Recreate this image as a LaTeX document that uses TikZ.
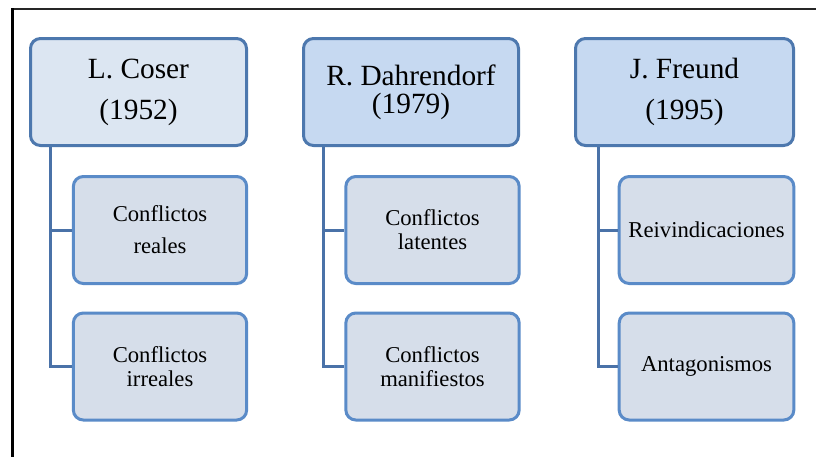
\documentclass[tikz,border=0pt]{standalone}
\usepackage{fontspec}
\setmainfont{Liberation Serif}
\usetikzlibrary{calc}
\definecolor{topA}{HTML}{DCE6F2}
\definecolor{topB}{HTML}{C6D9F1}
\definecolor{kid}{HTML}{D6DEEA}
\definecolor{edgeA}{HTML}{4D78AE}
\definecolor{edgeB}{HTML}{5A8BC8}
\definecolor{connc}{HTML}{4A72A8}
\tikzset{
  topbox/.style={draw=edgeA, line width=2.25pt, rounded corners=7.5pt, minimum height=80.25pt, inner sep=2pt, align=center, font=\fontsize{22}{30.75}\selectfont},
  kidbox/.style={draw=edgeB, line width=2.25pt, rounded corners=7.5pt, minimum width=130pt, minimum height=80.25pt, fill=kid, inner sep=2pt, align=center, font=\fontsize{17}{18}\selectfont},
  conn/.style={draw=connc, line width=2.25pt},
}
\begin{document}
\begin{tikzpicture}[x=0.75pt,y=-0.75pt]
\useasboundingbox (0,0) rectangle (816,457);
\fill[white] (0,0) rectangle (816,457);
% outer frame
\draw[black!85, line width=1.5pt] (11,8.5) -- (816,8.5);
\draw[black, line width=1.8pt] (12.5,8) -- (12.5,457);
% top boxes
\node[topbox, fill=topA, minimum width=162pt] (t1) at (138.5,92) {L. Coser\\(1952)};
\node[topbox, fill=topB, minimum width=161.25pt, font=\fontsize{22}{21}\selectfont] (t2) at (411,92) {R. Dahrendorf\\(1979)};
\node[topbox, fill=topB, minimum width=163.5pt] (t3) at (684.5,92) {J. Freund\\(1995)};
% children
\node[kidbox, font=\fontsize{17}{24}\selectfont] (c11) at (160,230) {Conflictos\\reales};
\node[kidbox] (c12) at (160,366.5) {Conflictos\\irreales};
\node[kidbox] (c21) at (432.5,230) {Conflictos\\latentes};
\node[kidbox] (c22) at (432.5,366.5) {Conflictos\\manifiestos};
\node[kidbox, minimum width=131pt] (c31) at (706.5,230) {Reivindicaciones};
\node[kidbox, minimum width=131pt] (c32) at (706.5,366.5) {Antagonismos};
% connectors
\draw[conn] ([xshift=15.75pt]t1.south west) |- (c11.west);
\draw[conn] ([xshift=15.75pt]t1.south west) |- (c12.west);
\draw[conn] ([xshift=15.75pt]t2.south west) |- (c21.west);
\draw[conn] ([xshift=15.75pt]t2.south west) |- (c22.west);
\draw[conn] ([xshift=18pt]t3.south west) |- (c31.west);
\draw[conn] ([xshift=18pt]t3.south west) |- (c32.west);
\end{tikzpicture}
\end{document}
